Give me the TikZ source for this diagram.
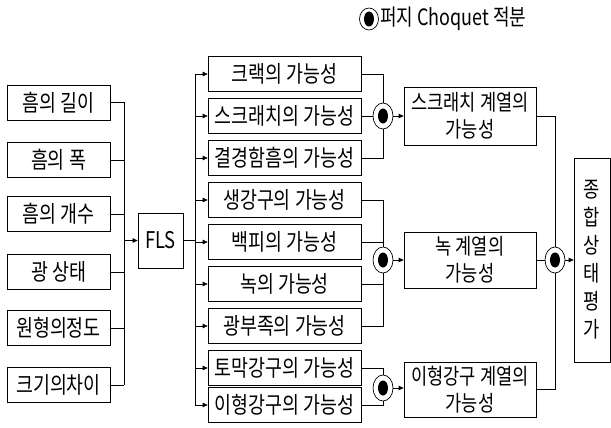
\documentclass[tikz,border=0pt]{standalone}
\usepackage{fontspec}
\setmainfont{Noto Sans CJK KR}[FakeStretch=0.8]
\usetikzlibrary{arrows.meta,shapes.geometric}
\begin{document}
\begin{tikzpicture}[x=1pt,y=-1pt,
  every node/.style={font=\fontsize{23}{24}\selectfont},
  lbox/.style={draw, line width=0.7pt, minimum width=103pt, minimum height=35pt, inner sep=0pt},
  mbox/.style={draw, line width=0.7pt, minimum width=153pt, minimum height=35pt, inner sep=0pt},
  rbox/.style={draw, line width=0.7pt, minimum width=132pt, align=center, inner sep=0pt,
               font=\fontsize{22}{27}\selectfont},
  fuz/.style={ellipse, draw, line width=0.7pt, fill=white, minimum width=20pt, minimum height=26pt, inner sep=0pt,
              path picture={\fill[black] (path picture bounding box.center) ellipse (5pt and 7.5pt);}},
  con/.style={line width=0.7pt},
  arr/.style={line width=0.7pt, -{Triangle[length=5pt,width=4.5pt]}}
]
\useasboundingbox (0,0) rectangle (611,428);

% legend
\node[fuz, minimum width=19pt, minimum height=22pt] (lg) at (369,19) {};
\node[anchor=west, inner sep=1pt, font=\fontsize{22.5}{24}\selectfont] (lgt) at (lg.east) {퍼지 Choquet 적분};

% left inputs
\node[lbox] (l1) at (58.5,102.5) {흠의 길이};
\node[lbox] (l2) at (58.5,160) {흠의 폭};
\node[lbox] (l3) at (58.5,214) {흠의 개수};
\node[lbox] (l4) at (58.5,272) {광 상태};
\node[lbox] (l5) at (58.5,328) {원형의정도};
\node[lbox] (l6) at (58.5,385) {크기의차이};

\node[draw, line width=0.7pt, minimum width=45pt, minimum height=55pt, inner sep=0pt] (fls) at (160.5,240.5) {FLS};

\coordinate (jL) at (124,240.5);
\coordinate (jM) at (195,240.5);

% middle boxes
\node[mbox] (k1) at (284.5,74) {크랙의 가능성};
\node[mbox] (k2) at (284.5,116) {스크래치의 가능성};
\node[mbox] (k3) at (284.5,158) {결경함흠의 가능성};
\node[mbox] (k4) at (284.5,200) {생강구의 가능성};
\node[mbox] (k5) at (284.5,242) {백피의 가능성};
\node[mbox] (k6) at (284.5,284) {녹의 가능성};
\node[mbox] (k7) at (284.5,326) {광부족의 가능성};
\node[mbox] (k8) at (284.5,368) {토막강구의 가능성};
\node[mbox] (k9) at (284.5,405) {이형강구의 가능성};

% right boxes
\node[rbox, minimum height=58pt] (r1) at (470,116) {스크래치 계열의\\가능성};
\node[rbox, minimum height=56pt] (r2) at (470,260) {녹 계열의\\가능성};
\node[rbox, minimum height=55pt] (r3) at (470,389.5) {이형강구 계열의\\가능성};

% final box
\node[draw, line width=0.7pt, minimum width=36pt, minimum height=204pt, inner sep=0pt, align=center,
      font=\fontsize{22}{28}\selectfont] (fin) at (592,260) {종\\합\\상\\태\\평\\가};

% fuzzy Choquet integrals
\node[fuz] (c1) at (383,116) {};
\node[fuz] (c2) at (383,260) {};
\node[fuz] (c3) at (383,388) {};
\node[fuz] (c4) at (555,260) {};

% left connectors
\foreach \n in {l1,l2,l3,l4,l5,l6} \draw[con] (\n.east) -- (\n.east -| jL);
\draw[con] (l1.east -| jL) -- (l6.east -| jL);
\draw[arr] (jL) -- (fls.west);

% FLS to middle
\draw[con] (fls.east) -- (jM);
\draw[con] (k1.west -| jM) -- (k9.west -| jM);
\foreach \n in {k1,k2,k3,k4,k5,k6,k7,k8,k9} \draw[arr] (\n.west -| jM) -- (\n.west);

% group 1
\draw[con] (k1.east) -| (c1.north);
\draw[con] (k2.east) -- (c1.west);
\draw[con] (k3.east) -| (c1.south);
\draw[arr] (c1.east) -- (r1.west);

% group 2
\draw[con] (k4.east) -| (c2.north);
\draw[con] (k5.east) -- (k5.east -| c2);
\draw[con] (k6.east) -- (k6.east -| c2);
\draw[con] (k7.east) -| (c2.south);
\draw[arr] (c2.east) -- (r2.west);

% group 3
\draw[con] (k8.east) -| (c3.north);
\draw[con] (k9.east) -| (c3.south);
\draw[arr] (c3.east) -- (r3.west |- c3.east);

% final
\draw[con] (r1.east) -| (c4.north);
\draw[con] (r2.east) -- (c4.west);
\draw[con] (r3.east) -| (c4.south);
\draw[arr] (c4.east) -- (fin.west);
\end{tikzpicture}
\end{document}
